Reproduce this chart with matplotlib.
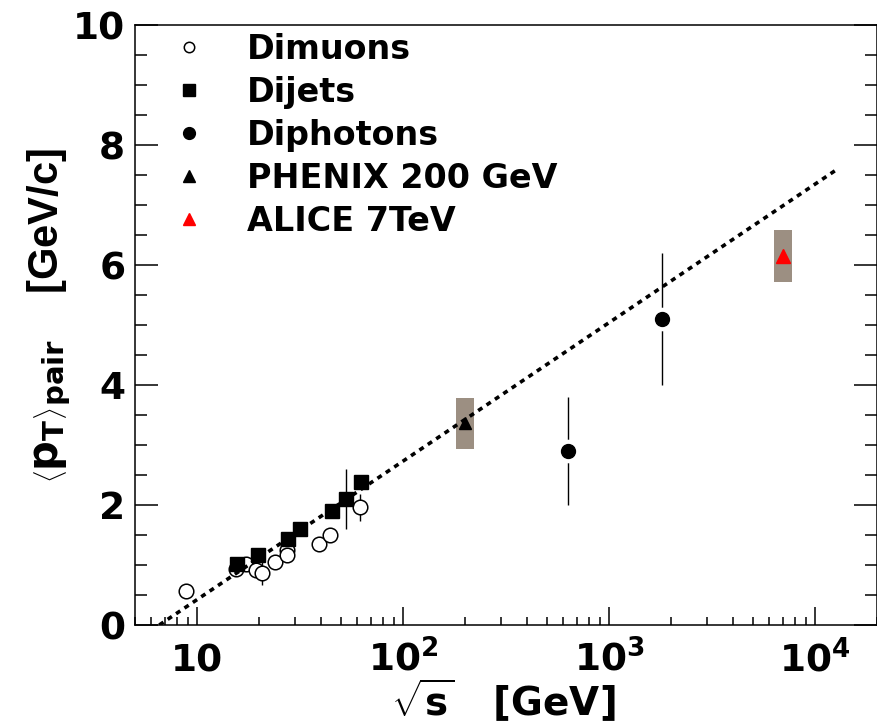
import matplotlib
matplotlib.use("Agg")
import matplotlib.pyplot as plt
from matplotlib.lines import Line2D
from matplotlib.patches import Rectangle
from matplotlib.ticker import FixedLocator, FixedFormatter, MultipleLocator, LogLocator, NullFormatter

# sqrt(s) [GeV] and <pT>_pair [GeV/c]
DIMUON_S = [8.8, 15.5, 17.3, 19.4, 20.7, 24.0, 27.3, 27.3, 39.2, 44.3, 62.0]
DIMUON_PT = [0.56, 0.93, 1.01, 0.92, 0.87, 1.05, 1.25, 1.17, 1.35, 1.50, 1.96]
DIMUON_ERR = [0.05, 0.05, 0.05, 0.05, 0.20, 0.05, 0.05, 0.05, 0.05, 0.05, 0.22]

DIJET_S = [15.6, 19.8, 27.6, 31.5, 45.2, 53.0, 62.5]
DIJET_PT = [1.02, 1.17, 1.43, 1.60, 1.90, 2.10, 2.39]
DIJET_ERR = [0.05, 0.05, 0.05, 0.05, 0.05, 0.50, 0.05]

DIPHOTON_S = [630, 1800]
DIPHOTON_PT = [2.90, 5.10]
DIPHOTON_ERR = [0.90, 1.10]

PHENIX_S = [200]
PHENIX_PT = [3.36]
PHENIX_SYS = [0.42]

ALICE_S = [7000]
ALICE_PT = [6.15]
ALICE_SYS = [0.43]

# logarithmic fit, straight on a log axis: end points
FIT_S = [6.56, 13000]
FIT_PT = [0.0, 7.61]

XTICKS = [10, 100, 1000, 10000]
XTICKLABELS = ["10", "$10^{2}$", "$10^{3}$", "$10^{4}$"]
YTICKS = [0, 2, 4, 6, 8, 10]

BOXC = "#9c8f82"
BOX_F = 10 ** 0.044  # half-width of syst. boxes, in decades

plt.rcParams.update({
    "font.family": ["DejaVu Sans"],
    "font.weight": "bold",
    "axes.labelweight": "bold",
    "mathtext.fontset": "custom",
    "mathtext.rm": "DejaVu Sans:bold",
    "mathtext.it": "DejaVu Sans:bold",
    "mathtext.bf": "DejaVu Sans:bold",
    "mathtext.sf": "DejaVu Sans:bold",
    "axes.linewidth": 1.1,
})

fig = plt.figure(figsize=(8.78, 7.24), dpi=100)
ax = fig.add_axes([135 / 878, 99 / 724, 742 / 878, 600 / 724])
ax.set_xscale("log")

# systematic boxes
for xs, ys, ss in ((PHENIX_S, PHENIX_PT, PHENIX_SYS), (ALICE_S, ALICE_PT, ALICE_SYS)):
    for x, y, s in zip(xs, ys, ss):
        ax.add_patch(Rectangle((x / BOX_F, y - s), x * BOX_F - x / BOX_F, 2 * s,
                               facecolor=BOXC, edgecolor="none", zorder=1))

ax.plot(FIT_S, FIT_PT, color="black", lw=2.6, ls=(0, (1.4, 1.4)), zorder=3)

ax.errorbar(DIMUON_S, DIMUON_PT, yerr=DIMUON_ERR, fmt="none", ecolor="black",
            elinewidth=1.0, capsize=0, zorder=2)
ax.plot(DIMUON_S, DIMUON_PT, "o", ms=10.5, mfc="white", mec="black", mew=1.1,
        zorder=2.5)

ax.errorbar(DIJET_S, DIJET_PT, yerr=DIJET_ERR, fmt="none", ecolor="black",
            elinewidth=1.0, capsize=0, zorder=2)
ax.plot(DIJET_S, DIJET_PT, "s", ms=9.5, color="black", zorder=4)

ax.errorbar(DIPHOTON_S, DIPHOTON_PT, yerr=DIPHOTON_ERR, fmt="none", ecolor="black",
            elinewidth=1.0, capsize=0, zorder=2)
ax.plot(DIPHOTON_S, DIPHOTON_PT, "o", ms=16, color="white", zorder=3.5)
ax.plot(DIPHOTON_S, DIPHOTON_PT, "o", ms=10, color="black", zorder=4)

ax.plot(PHENIX_S, PHENIX_PT, "^", ms=9, color="black", zorder=4)
ax.plot(ALICE_S, ALICE_PT, "^", ms=9.5, color="red", zorder=4)

ax.set_xlim(5, 2e4)
ax.set_ylim(0, 10)

ax.xaxis.set_major_locator(FixedLocator(XTICKS))
ax.xaxis.set_major_formatter(FixedFormatter(XTICKLABELS))
ax.xaxis.set_minor_locator(LogLocator(base=10, subs=range(2, 10), numticks=20))
ax.xaxis.set_minor_formatter(NullFormatter())
ax.set_yticks(YTICKS)
ax.set_yticklabels([str(v) for v in YTICKS])
ax.yaxis.set_minor_locator(MultipleLocator(0.5))

ax.tick_params(axis="y", which="both", direction="in", left=True, right=True,
               width=1.1, labelsize=27, pad=7)
ax.tick_params(axis="y", which="major", length=16.5)
ax.tick_params(axis="y", which="minor", length=8.5)
ax.tick_params(axis="x", which="both", direction="in", top=False, width=1.1,
               labelsize=27, pad=33.5)
ax.tick_params(axis="x", which="major", length=13)
ax.tick_params(axis="x", which="minor", length=6)
for lbl in ax.get_xticklabels():
    lbl.set_va("baseline")

ax.set_xlabel(r"$\sqrt{s}$   [GeV]", fontsize=28)
ax.xaxis.set_label_coords(0.497, -0.087)
ax.set_ylabel(r"$\left\langle p_{T} \right\rangle_{pair}$    [GeV/c]", fontsize=30,
              family=["Liberation Sans", "DejaVu Sans"])
ax.yaxis.set_label_coords(-0.083, 0.515)

handles = [
    Line2D([], [], ls="none", marker="o", ms=7.5, mfc="none", mec="black", mew=1.1),
    Line2D([], [], ls="none", marker="s", ms=8.5, color="black"),
    Line2D([], [], ls="none", marker="o", ms=8.5, color="black"),
    Line2D([], [], ls="none", marker="^", ms=8, color="black"),
    Line2D([], [], ls="none", marker="^", ms=8, color="red"),
]
labels = ["Dimuons", "Dijets", "Diphotons", "PHENIX 200 GeV", "ALICE 7TeV"]
ax.legend(handles, labels, loc="upper left", bbox_to_anchor=(0.05, 0.987),
          frameon=False, fontsize=24, handlelength=1.0, handletextpad=1.24,
          labelspacing=0.30, borderpad=0, borderaxespad=0)

fig.savefig("out.png", dpi=100)
